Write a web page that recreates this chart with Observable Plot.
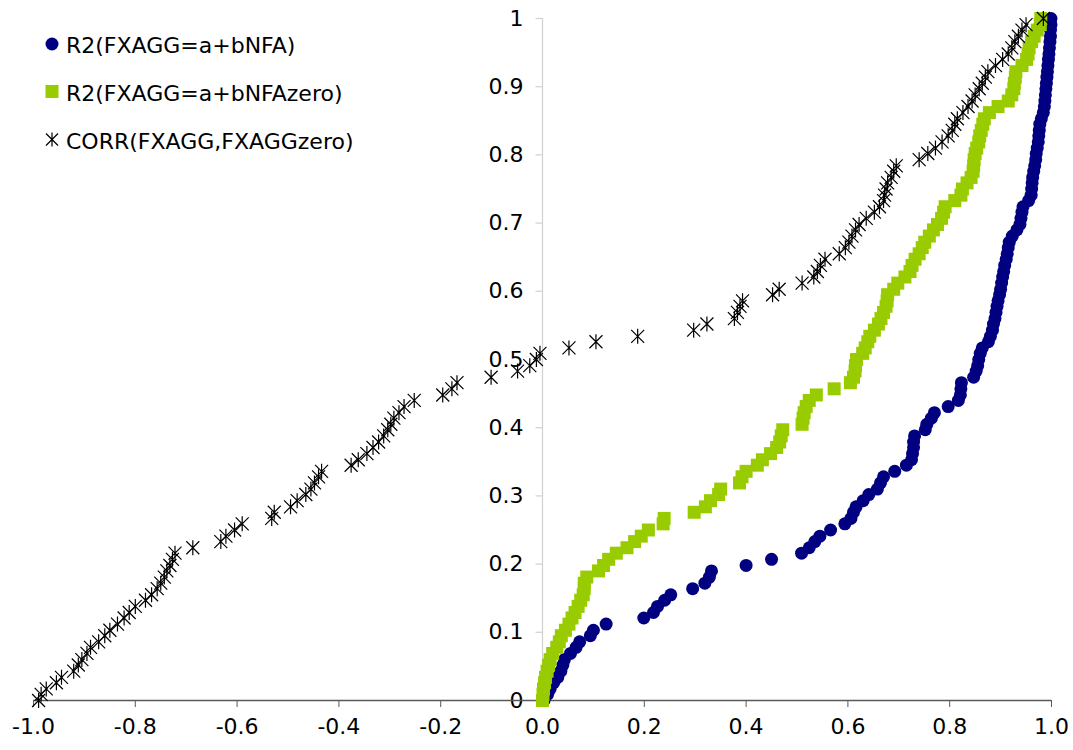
<!DOCTYPE html>
<html>
<head>
<meta charset="utf-8">
<script src="https://cdn.jsdelivr.net/npm/d3@7"></script>
<script src="https://cdn.jsdelivr.net/npm/@observablehq/plot@0.6"></script>
<style>
  html, body { margin: 0; padding: 0; background: #ffffff; }
  #wrap { position: relative; width: 1073px; height: 750px; font-family: "DejaVu Sans", Verdana, sans-serif; }
  #legend { position: absolute; left: 0; top: 0; }
</style>
</head>
<body>
<div id="wrap"></div>
<script>
// ---- data ----
const seriesNames = ["R2(FXAGG=a+bNFA)", "R2(FXAGG=a+bNFAzero)", "CORR(FXAGG,FXAGGzero)"];
const seriesColors = ["#000080", "#99cc00", "#000000"];

// cumulative share (vertical position of each ranked observation)
const cumShare = [0, 0.009, 0.017, 0.026, 0.034, 0.043, 0.052, 0.060, 0.069, 0.078,
  0.086, 0.095, 0.103, 0.112, 0.121, 0.129, 0.138, 0.147, 0.155, 0.164,
  0.172, 0.181, 0.190, 0.198, 0.207, 0.216, 0.224, 0.233, 0.241, 0.250,
  0.259, 0.267, 0.276, 0.284, 0.293, 0.302, 0.310, 0.319, 0.328, 0.336,
  0.345, 0.353, 0.362, 0.371, 0.379, 0.388, 0.397, 0.405, 0.414, 0.422,
  0.431, 0.440, 0.448, 0.457, 0.466, 0.474, 0.483, 0.491, 0.500, 0.509,
  0.517, 0.526, 0.534, 0.543, 0.552, 0.560, 0.569, 0.578, 0.586, 0.595,
  0.603, 0.612, 0.621, 0.629, 0.638, 0.647, 0.655, 0.664, 0.672, 0.681,
  0.690, 0.698, 0.707, 0.716, 0.724, 0.733, 0.741, 0.750, 0.759, 0.767,
  0.776, 0.784, 0.793, 0.802, 0.810, 0.819, 0.828, 0.836, 0.845, 0.853,
  0.862, 0.871, 0.879, 0.888, 0.897, 0.905, 0.914, 0.922, 0.931, 0.940,
  0.948, 0.957, 0.966, 0.974, 0.983, 0.991, 1.000];

// R2(FXAGG=a+bNFA)
const r2Nfa = [0.003, 0.010, 0.015, 0.022, 0.030, 0.036, 0.040, 0.043, 0.055, 0.066,
  0.073, 0.094, 0.100, 0.125, 0.199, 0.218, 0.226, 0.240, 0.252, 0.295,
  0.319, 0.328, 0.332, 0.400, 0.450, 0.509, 0.524, 0.535, 0.545, 0.566,
  0.594, 0.606, 0.611, 0.616, 0.630, 0.641, 0.658, 0.664, 0.670, 0.692,
  0.715, 0.725, 0.727, 0.729, 0.729, 0.731, 0.752, 0.755, 0.764, 0.770,
  0.797, 0.817, 0.821, 0.822, 0.823, 0.847, 0.852, 0.855, 0.857, 0.860,
  0.864, 0.876, 0.880, 0.884, 0.886, 0.889, 0.891, 0.893, 0.895, 0.898,
  0.900, 0.902, 0.904, 0.906, 0.908, 0.911, 0.913, 0.915, 0.917, 0.923,
  0.932, 0.938, 0.940, 0.942, 0.944, 0.955, 0.960, 0.961, 0.962, 0.963,
  0.965, 0.967, 0.969, 0.970, 0.972, 0.974, 0.975, 0.976, 0.977, 0.980,
  0.984, 0.986, 0.987, 0.988, 0.989, 0.990, 0.991, 0.992, 0.993, 0.994,
  0.995, 0.996, 0.997, 0.998, 0.998, 0.999, 0.999];

// R2(FXAGG=a+bNFAzero)
const r2NfaZero = [0.000, 0.001, 0.002, 0.004, 0.006, 0.009, 0.012, 0.015, 0.020, 0.028,
  0.033, 0.037, 0.045, 0.052, 0.058, 0.064, 0.070, 0.075, 0.080, 0.082,
  0.082, 0.087, 0.110, 0.120, 0.130, 0.145, 0.166, 0.181, 0.194, 0.208,
  0.237, 0.239, 0.298, 0.320, 0.330, 0.346, 0.350, 0.387, 0.392, 0.400,
  0.422, 0.432, 0.448, 0.460, 0.466, 0.469, 0.472, 0.510, 0.512, 0.514,
  0.518, 0.524, 0.538, 0.573, 0.605, 0.611, 0.614, 0.615, 0.617, 0.629,
  0.634, 0.639, 0.643, 0.652, 0.660, 0.665, 0.670, 0.675, 0.677, 0.678,
  0.690, 0.698, 0.712, 0.722, 0.726, 0.732, 0.740, 0.746, 0.751, 0.760,
  0.768, 0.776, 0.784, 0.788, 0.791, 0.810, 0.822, 0.825, 0.834, 0.842,
  0.846, 0.847, 0.848, 0.850, 0.853, 0.857, 0.859, 0.862, 0.865, 0.868,
  0.878, 0.895, 0.915, 0.922, 0.926, 0.927, 0.929, 0.930, 0.942, 0.951,
  0.954, 0.956, 0.961, 0.966, 0.972, 0.978, 0.979];

// CORR(FXAGG,FXAGGzero)
const corrFx = [-0.990, -0.985, -0.975, -0.955, -0.945, -0.921, -0.912, -0.905, -0.895, -0.888,
  -0.872, -0.860, -0.850, -0.835, -0.822, -0.812, -0.800, -0.780, -0.768, -0.757,
  -0.750, -0.743, -0.738, -0.732, -0.727, -0.722, -0.687, -0.632, -0.622, -0.605,
  -0.590, -0.532, -0.527, -0.495, -0.482, -0.465, -0.455, -0.448, -0.440, -0.434,
  -0.376, -0.362, -0.345, -0.333, -0.322, -0.312, -0.304, -0.298, -0.292, -0.282,
  -0.272, -0.252, -0.196, -0.178, -0.168, -0.101, -0.049, -0.025, -0.012, -0.005,
  0.052, 0.105, 0.187, 0.297, 0.323, 0.377, 0.383, 0.388, 0.393, 0.452,
  0.465, 0.510, 0.533, 0.540, 0.546, 0.555, 0.583, 0.595, 0.602, 0.608,
  0.615, 0.622, 0.636, 0.652, 0.662, 0.670, 0.672, 0.675, 0.678, 0.685,
  0.690, 0.695, 0.740, 0.757, 0.772, 0.785, 0.797, 0.805, 0.810, 0.815,
  0.826, 0.836, 0.844, 0.850, 0.858, 0.864, 0.870, 0.875, 0.890, 0.904,
  0.915, 0.922, 0.928, 0.935, 0.942, 0.950, 0.984];

const xTicks = [-1.0, -0.8, -0.6, -0.4, -0.2, 0.0, 0.2, 0.4, 0.6, 0.8, 1.0];
const xTickLabels = ["-1.0", "-0.8", "-0.6", "-0.4", "-0.2", "0.0", "0.2", "0.4", "0.6", "0.8", "1.0"];
const yTicks = [0, 0.1, 0.2, 0.3, 0.4, 0.5, 0.6, 0.7, 0.8, 0.9, 1];
const yTickLabels = ["0", "0.1", "0.2", "0.3", "0.4", "0.5", "0.6", "0.7", "0.8", "0.9", "1"];

// ---- build tables ----
const nfaData = r2Nfa.map((x, i) => ({x, y: cumShare[i]}));
const nfaZeroData = r2NfaZero.map((x, i) => ({x, y: cumShare[i]}));
const corrData = corrFx.map((x, i) => ({x, y: cumShare[i]}));
const yTickData = yTicks.map((v, i) => ({v, label: yTickLabels[i]}));

// ---- custom symbols ----
const starSymbol = {
  draw(ctx) {
    const a = 6.5, h = 7.5;
    ctx.moveTo(-a, -a); ctx.lineTo(a, a);
    ctx.moveTo(-a, a); ctx.lineTo(a, -a);
    ctx.moveTo(0, -h); ctx.lineTo(0, h);
  }
};
const squareSymbol = {
  draw(ctx) { ctx.rect(-6.5, -6.5, 13, 13); }
};
const leftTick = {
  draw(ctx) { ctx.moveTo(-7, 0); ctx.lineTo(0, 0); }
};

const chart = Plot.plot({
  width: 1073,
  height: 750,
  marginLeft: 33,
  marginRight: 22,
  marginTop: 18,
  marginBottom: 50,
  style: {fontFamily: "'DejaVu Sans', Verdana, sans-serif", fontSize: "22px", background: "white", color: "black"},
  x: {domain: [-1, 1]},
  y: {domain: [0, 1], axis: null},
  marks: [
    // vertical axis through x = 0
    Plot.ruleX([0], {stroke: "#d4d4d4", strokeWidth: 1.3}),
    Plot.dot(yTickData, {x: () => 0, y: "v", symbol: leftTick, stroke: "#d4d4d4", fill: "none", strokeWidth: 1.3}),
    Plot.text(yTickData, {x: () => 0, y: "v", text: "label", textAnchor: "end", dx: -19, fill: "black", fontSize: 22}),
    // horizontal axis
    Plot.ruleY([0], {stroke: "#595959", strokeWidth: 1.3}),
    Plot.axisX(xTicks, {
      anchor: "bottom", tickSize: 7, tickPadding: 11, stroke: "#595959", fill: "black",
      fontSize: 22, tickFormat: d => xTickLabels[xTicks.indexOf(d)], label: null
    }),
    // series
    Plot.dot(nfaData, {x: "x", y: "y", r: 6.5, fill: seriesColors[0], stroke: "none"}),
    Plot.dot(nfaZeroData, {x: "x", y: "y", symbol: squareSymbol, fill: seriesColors[1], stroke: "none"}),
    Plot.dot(corrData, {x: "x", y: "y", symbol: starSymbol, stroke: seriesColors[2], fill: "none", strokeWidth: 1.2})
  ]
});

const wrap = document.getElementById("wrap");
wrap.appendChild(chart);

// ---- legend (overlaid at top-left) ----
const legend = d3.create("svg")
  .attr("id", "legend")
  .attr("width", 420).attr("height", 170)
  .style("font-family", "'DejaVu Sans', Verdana, sans-serif")
  .style("font-size", "22px");
const baselines = [53, 100.5, 148.5];
seriesNames.forEach((name, i) => {
  const cy = baselines[i] - 9;
  const g = legend.append("g").attr("transform", `translate(52,${cy})`);
  if (i === 0) g.append("circle").attr("r", 6.5).attr("fill", seriesColors[0]);
  if (i === 1) g.append("rect").attr("x", -6.5).attr("y", -6.5).attr("width", 13).attr("height", 13).attr("fill", seriesColors[1]);
  if (i === 2) g.append("path").attr("d", "M-6,-6L6,6M-6,6L6,-6M0,-7L0,7").attr("stroke", seriesColors[2]).attr("stroke-width", 1.2).attr("fill", "none");
  legend.append("text").attr("x", 66).attr("y", baselines[i]).attr("fill", "black").text(name);
});
wrap.appendChild(legend.node());
</script>
</body>
</html>
